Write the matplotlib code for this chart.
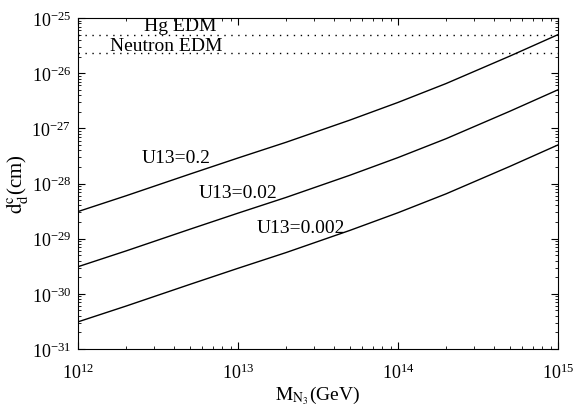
import matplotlib
matplotlib.use('Agg')
import matplotlib.pyplot as plt
import matplotlib.ticker as ticker
import numpy as np

plt.rcParams['font.family'] = 'Liberation Serif'
plt.rcParams['mathtext.fontset'] = 'stix'

# masse M_N3 (GeV)
m_n3 = [1e12, 2e12, 5e12, 1e13, 2e13, 5e13, 1e14, 2e14, 5e14, 1e15]

# d_d^c (cm) pour chaque U13
dd_u02 = [3.1e-29, 6.0e-29, 1.48e-28, 2.9e-28, 5.6e-28, 1.41e-27, 2.95e-27, 6.5e-27, 2.04e-26, 5.0e-26]
dd_u002 = [3.1e-30, 6.0e-30, 1.48e-29, 2.9e-29, 5.6e-29, 1.41e-28, 2.95e-28, 6.5e-28, 2.04e-27, 5.0e-27]
dd_u0002 = [3.1e-31, 6.0e-31, 1.48e-30, 2.9e-30, 5.6e-30, 1.41e-29, 2.95e-29, 6.5e-29, 2.04e-28, 5.0e-28]

# limites experimentales
hg_edm = 5.0e-26
neutron_edm = 2.3e-26

fig = plt.figure(figsize=(5.86, 4.06), dpi=100)
ax = fig.add_axes([0.133, 0.138, 0.819, 0.815])

ax.plot(m_n3, dd_u02, color='black', linewidth=1)
ax.plot(m_n3, dd_u002, color='black', linewidth=1)
ax.plot(m_n3, dd_u0002, color='black', linewidth=1)

ax.axhline(hg_edm, color='black', linestyle=(0, (1, 4)), linewidth=1)
ax.axhline(neutron_edm, color='black', linestyle=(0, (1, 4)), linewidth=1)

# annotations
ax.text(2.6e12, 7.2e-26, 'Hg EDM', fontsize=14, va='center', ha='left')
ax.text(1.58e12, 3.2e-26, 'Neutron EDM', fontsize=14, va='center', ha='left')
ax.text(2.5e12, 3.0e-28, 'U13=0.2', fontsize=14, va='center', ha='left')
ax.text(5.7e12, 7.0e-29, 'U13=0.02', fontsize=14, va='center', ha='left')
ax.text(1.3e13, 1.6e-29, 'U13=0.002', fontsize=14, va='center', ha='left')

ax.set_xscale('log')
ax.set_yscale('log')
ax.set_xlim(1e12, 1e15)
ax.set_ylim(1e-31, 1e-25)
ax.xaxis.set_minor_formatter(ticker.NullFormatter())
ax.yaxis.set_minor_formatter(ticker.NullFormatter())

ax.tick_params(which='both', direction='in', top=True, right=True, labelsize=13)
ax.tick_params(which='major', length=5)
ax.tick_params(which='minor', length=2.5)
ax.tick_params(axis='x', which='major', pad=10)
ax.tick_params(axis='y', which='major', pad=5)

ax.set_xlabel(r'$\mathrm{M_{N_3}}$(GeV)', fontsize=14, labelpad=1)
ax.set_ylabel(r'$\mathrm{d_d^c}$(cm)', fontsize=15, labelpad=1)

fig.savefig('out.png', dpi=100)
